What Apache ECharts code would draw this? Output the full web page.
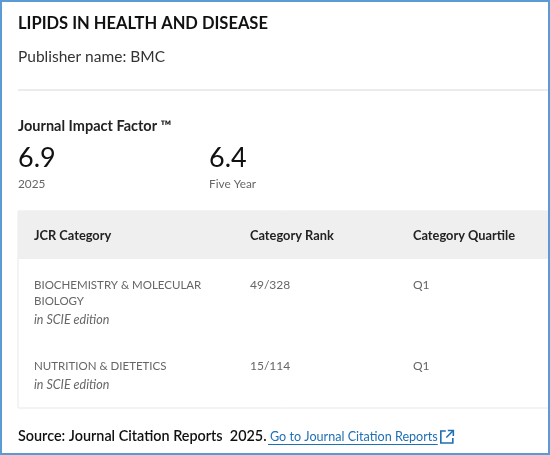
<!DOCTYPE html>
<html>
<head>
<meta charset="utf-8">
<script src="https://cdn.jsdelivr.net/npm/echarts@6/dist/echarts.min.js"></script>
<style>
  html, body { margin: 0; padding: 0; background: #fff; }
  #card { width: 550px; height: 455px; }
</style>
</head>
<body>
<div id="card"></div>
<script>
// 期刊数据
var journalName = 'LIPIDS IN HEALTH AND DISEASE';
var publisher = 'BMC';
var impactLabels = ['2025', 'Five Year'];
var impactValues = ['6.9', '6.4'];
var headers = ['JCR Category', 'Category Rank', 'Category Quartile'];
var categories = ['BIOCHEMISTRY & MOLECULAR BIOLOGY', 'NUTRITION & DIETETICS'];
var ranks = ['49/328', '15/114'];
var quartiles = ['Q1', 'Q1'];
var editions = ['in SCIE edition', 'in SCIE edition'];
var sourceYear = '2025';

var FONT = 'Lato, "Noto Sans", sans-serif';
var LINK = '#1f6fb2';
var myChart = echarts.init(document.getElementById('card'), null, { renderer: 'canvas' });

function txt(x, y, s, size, color, weight, style, extra) {
  var st = {
    x: x, y: y, text: s, fill: color, fontSize: size,
    fontFamily: FONT, fontWeight: weight || 'normal', fontStyle: style || 'normal',
    verticalAlign: 'middle', align: 'left'
  };
  if (extra) { for (var k in extra) st[k] = extra[k]; }
  return { type: 'text', style: st, silent: true };
}

var els = [];

// 标题
els.push(txt(18, 24, journalName, 16.5, '#111', 'bold'));
els.push(txt(18, 56.5, 'Publisher name: ' + publisher, 15.5, '#333'));

// 分割线
els.push({ type: 'line', shape: { x1: 18, y1: 90, x2: 548, y2: 90 },
  style: { stroke: '#e6e6e6', lineWidth: 1.5 } });

// 影响因子
els.push(txt(18, 126, 'Journal Impact Factor \u2122', 14.5, '#222', 'bold'));
var ifX = [18, 209];
impactValues.forEach(function (v, i) {
  els.push(txt(ifX[i], 158.5, v, 27, '#111'));
  els.push(txt(ifX[i], 184, impactLabels[i], 11.8, '#666'));
});

// 表格
var tableTop = 211, headH = 48, tableBottom = 408;
els.push({ type: 'rect', shape: { x: 18, y: tableTop, width: 540, height: tableBottom - tableTop },
  style: { fill: '#fff', stroke: '#e8e8e8', lineWidth: 1 } });
els.push({ type: 'rect', shape: { x: 18, y: tableTop, width: 540, height: headH },
  style: { fill: '#efefef' } });

var colX = [34, 250, 413];
headers.forEach(function (h, i) {
  els.push(txt(colX[i], 235.5, h, 12.8, '#222', 'bold'));
});

// 行
var rowMid = [285, 366];
categories.forEach(function (c, i) {
  els.push(txt(colX[0], rowMid[i] - 8, c, 11.5, '#666', 'normal', 'normal',
    { verticalAlign: 'top', width: 200, overflow: 'break', lineHeight: 16 }));
  var lines = i === 0 ? 2 : 1;
  els.push(txt(colX[0], rowMid[i] + (lines - 1) * 16 + (i === 0 ? 19 : 19), editions[i], 12.5, '#666', 'normal', 'italic'));
  els.push(txt(colX[1], rowMid[i], ranks[i], 12, '#666'));
  els.push(txt(colX[2], rowMid[i], quartiles[i], 12, '#666'));
});

// 来源
els.push(txt(18, 436, 'Source: Journal Citation Reports  ' + sourceYear + '.', 14.4, '#111', '600'));
var linkText = 'Go to Journal Citation Reports';
var ctx = document.createElement('canvas').getContext('2d');
ctx.font = '12.6px ' + FONT;
var linkW = ctx.measureText(linkText).width;
var linkX = 270;
els.push(txt(linkX, 437, linkText, 12.6, LINK));
els.push({ type: 'line', shape: { x1: linkX - 2, y1: 444.5, x2: linkX + linkW, y2: 444.5 },
  style: { stroke: LINK, lineWidth: 1 } });
var ix = linkX + linkW + 3;
// 外链图标
els.push({ type: 'polyline', shape: { points: [[ix + 5, 431], [ix, 431], [ix, 443], [ix + 12, 443], [ix + 12, 438]] },
  style: { fill: null, stroke: LINK, lineWidth: 1.6 } });
els.push({ type: 'polyline', shape: { points: [[ix + 7, 430.5], [ix + 12.5, 430.5], [ix + 12.5, 436]] },
  style: { fill: null, stroke: LINK, lineWidth: 1.6 } });
els.push({ type: 'line', shape: { x1: ix + 12.5, y1: 430.5, x2: ix + 5.5, y2: 437.5 },
  style: { stroke: LINK, lineWidth: 1.6 } });

// 外框
els.push({ type: 'rect', shape: { x: 1, y: 1, width: 548, height: 453 },
  style: { fill: null, stroke: '#5b9bd5', lineWidth: 2 } });

option = {
  animation: false,
  graphic: { elements: els }
};

myChart.setOption(option);
</script>
</body>
</html>
